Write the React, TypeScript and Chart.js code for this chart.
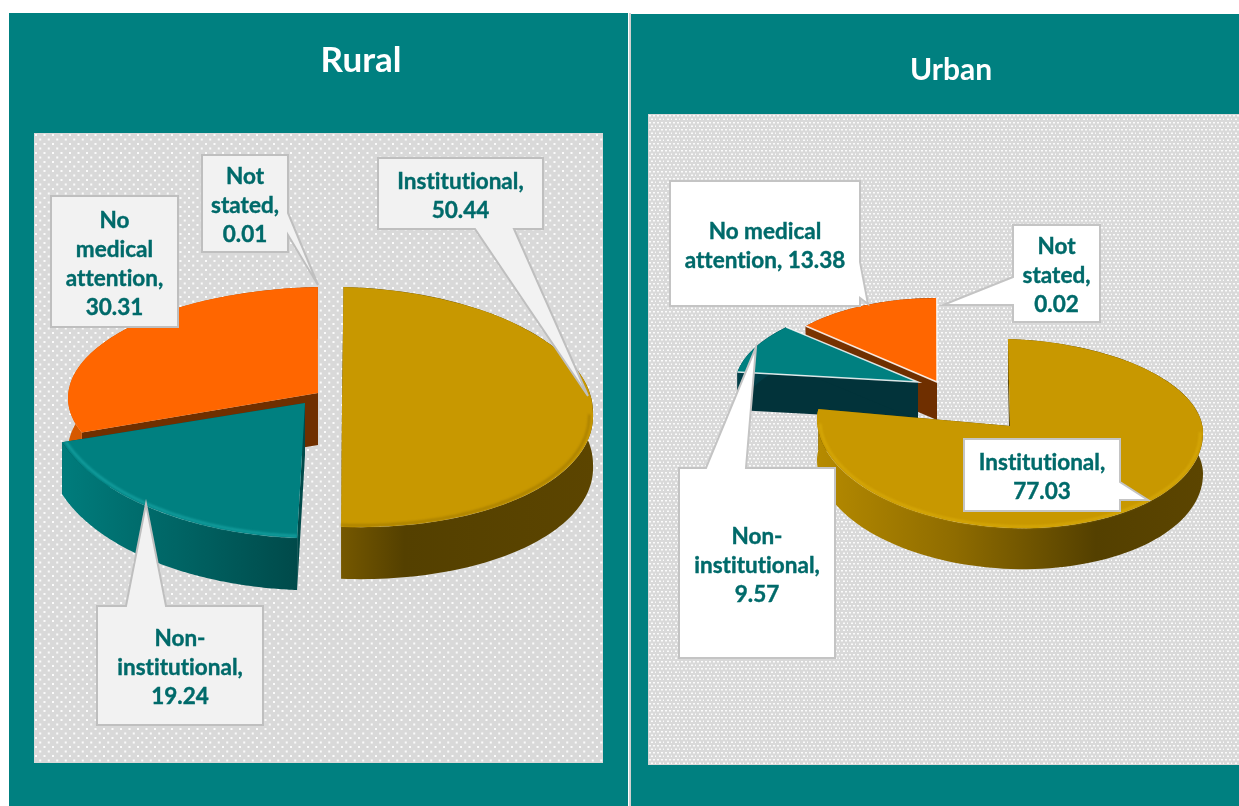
import React, { useEffect, useRef } from "react";
import { Chart, registerables } from "chart.js";

Chart.register(...registerables);

const categories = ["Institutional", "Non-institutional", "No medical attention", "Not stated"];
const ruralValues = [50.44, 19.24, 30.31, 0.01];
const urbanValues = [77.03, 9.57, 13.38, 0.02];
const sliceColors = ["#c89800", "#008080", "#ff6600", "#ff6600"];

const FONT = "Lato, Carlito, Calibri, sans-serif";
const INK = "#006a6a";

type Slice = {
  ax: number; ay: number; a: number; b: number; c: number; d: number; dFront?: number; bFront?: number;
  depth: number; wall: [number, string][]; wallX: [number, number]; radial: string;
  bevel?: string; bevelAlpha?: number; edge?: boolean; skip?: boolean;
};
type Callout = {
  i: number; lines: string[]; x: number; y: number; w: number; h: number;
  side?: "top" | "right" | "bottom" | "left"; p?: number; q?: number; tx?: number; ty?: number;
};
type Panel = {
  name: string; values: number[]; ox: number; oy: number; w: number; h: number;
  plot: [number, number, number, number]; titleX: number; titleY: number; titleSize: number;
  tile: [number, number, [number, number][], number, number];
  fill: string; stroke: string; order: number[]; slices: Slice[]; callouts: Callout[];
};

const ruralPanel: Panel = {
  name: "Rural", values: ruralValues, ox: 9, oy: 13, w: 619, h: 793,
  plot: [34, 133, 569, 630], titleX: 361, titleY: 61, titleSize: 35,
  tile: [17, 9, [[1, 1], [9.5, 1], [5.25, 5.5], [13.75, 5.5]], 2, 2],
  fill: "#f2f2f2", stroke: "#bfbfbf", order: [2, 3, 0, 1],
  slices: [
    { ax: 342, ay: 407, a: 251, b: -1.5, c: 6, d: 120, dFront: 120, bFront: 6, depth: 52, wallX: [341, 595],
      wall: [[0, "#755800"], [0.25, "#544000"], [1, "#5c4500"]], radial: "#544000", bevel: "#9c7600", bevelAlpha: 0.7 },
    { ax: 305, ay: 403, a: 256.8, b: -0.8, c: 5.5, d: 135.2, depth: 52, wallX: [62, 298],
      wall: [[0, "#007c7c"], [0.5, "#006464"], [1, "#004a4a"]], radial: "#004a4a", bevel: "#18a5a5", bevelAlpha: 0.85 },
    { ax: 318, ay: 393, a: 250, b: 0, c: -5, d: 106, depth: 52, wallX: [68, 318],
      wall: [[0, "#d85a00"], [1, "#a04000"]], radial: "#6f2f00" },
    { ax: 318, ay: 393, a: 250, b: 0, c: -5, d: 106, depth: 52, wallX: [68, 318],
      wall: [[0, "#d85a00"], [1, "#a04000"]], radial: "#6f2f00", skip: true },
  ],
  callouts: [
    { i: 3, lines: ["Not", "stated,", "{v}"], x: 202, y: 155, w: 86, h: 97, side: "right", p: 213, q: 235, tx: 318, ty: 285 },
    { i: 0, lines: ["Institutional,", "{v}"], x: 378, y: 158, w: 165, h: 71, side: "bottom", p: 475, q: 514, tx: 588, ty: 396 },
    { i: 2, lines: ["No", "medical", "attention,", "{v}"], x: 51, y: 196, w: 127, h: 131 },
    { i: 1, lines: ["Non-", "institutional,", "{v}"], x: 97, y: 606, w: 166, h: 119, side: "top", p: 126, q: 166, tx: 146, ty: 504 },
  ],
};

const urbanPanel: Panel = {
  name: "Urban", values: urbanValues, ox: 631, oy: 14, w: 608, h: 792,
  plot: [648, 114, 600, 651], titleX: 951, titleY: 70, titleSize: 30,
  tile: [8, 7, [[1, 1], [5, 1], [3, 4.5], [7, 4.5]], 2, 1.5],
  fill: "#ffffff", stroke: "#c4c4c4", order: [2, 3, 1, 0],
  slices: [
    { ax: 1010, ay: 426, a: 193, b: 2, c: 6, d: 87, dFront: 102, depth: 41, wallX: [820, 1203],
      wall: [[0, "#b58a00"], [0.35, "#8f6c00"], [0.72, "#544000"], [1, "#5c4500"]], radial: "#544000", bevel: "#e0b20c", bevelAlpha: 0.6 },
    { ax: 918, ay: 382, a: 183, b: -7, c: -0.6, d: 83, depth: 38, wallX: [737, 918],
      wall: [[0, "#02404a"], [1, "#02333a"]], radial: "#02333a", edge: true },
    { ax: 937, ay: 382, a: 176, b: 0, c: 0, d: 84, depth: 38, wallX: [805, 937],
      wall: [[0, "#7a3300"], [1, "#6f2f00"]], radial: "#6f2f00", edge: true },
    { ax: 937, ay: 382, a: 176, b: 0, c: 0, d: 84, depth: 38, wallX: [805, 937],
      wall: [[0, "#7a3300"], [1, "#6f2f00"]], radial: "#6f2f00", skip: true },
  ],
  callouts: [
    { i: 2, lines: ["No medical", "attention, {v}"], x: 670, y: 181, w: 190, h: 125, side: "right", p: 262, q: 298, tx: 868, ty: 304 },
    { i: 3, lines: ["Not", "stated,", "{v}"], x: 1013, y: 225, w: 87, h: 97, side: "left", p: 277, q: 305, tx: 943, ty: 305 },
    { i: 0, lines: ["Institutional,", "{v}"], x: 964, y: 439, w: 156, h: 72, side: "right", p: 482, q: 500, tx: 1148, ty: 500 },
    { i: 1, lines: ["Non-", "institutional,", "{v}"], x: 679, y: 468, w: 156, h: 190, side: "top", p: 706, q: 746, tx: 756, ty: 347 },
  ],
};

function mapPt(s: Slice, ux: number, uy: number): [number, number] {
  const front = uy > 0;
  const d = front && s.dFront ? s.dFront : s.d;
  const b = front && s.bFront !== undefined ? s.bFront : s.b;
  return [s.ax + s.a * ux + b * uy, s.ay + s.c * ux + d * uy];
}

function outerPts(s: Slice, start: number, end: number, shrink = 1): [number, number][] {
  const pts: [number, number][] = [];
  const n = 120;
  for (let k = 0; k <= n; k++) {
    const t = start + ((end - start) * k) / n;
    pts.push(mapPt(s, Math.cos(t) * shrink, Math.sin(t) * shrink));
  }
  return pts;
}

function drawFace(ctx: CanvasRenderingContext2D, arc: any, s: Slice, b: number, d: number) {
  const R = arc.outerRadius;
  ctx.save();
  ctx.transform(s.a / R, s.c / R, b / R, d / R, s.ax - ((s.a * arc.x + b * arc.y) / R), s.ay - ((s.c * arc.x + d * arc.y) / R));
  arc.draw(ctx);
  ctx.restore();
}

function drawSlice(ctx: CanvasRenderingContext2D, arc: any, s: Slice) {
  const { startAngle: a0, endAngle: a1 } = arc;
  const outer = outerPts(s, a0, a1);
  const grad = ctx.createLinearGradient(s.wallX[0], 0, s.wallX[1], 0);
  s.wall.forEach(([o, c]) => grad.addColorStop(o, c));

  // radial cut walls
  ctx.fillStyle = s.radial;
  [outer[0], outer[outer.length - 1]].forEach((p) => {
    ctx.beginPath();
    ctx.moveTo(s.ax, s.ay);
    ctx.lineTo(p[0], p[1]);
    ctx.lineTo(p[0], p[1] + s.depth);
    ctx.lineTo(s.ax, s.ay + s.depth);
    ctx.closePath();
    ctx.fill();
  });

  // outer wall
  ctx.fillStyle = grad;
  ctx.beginPath();
  outer.forEach((p, i) => (i ? ctx.lineTo(p[0], p[1]) : ctx.moveTo(p[0], p[1])));
  [...outer].reverse().forEach((p) => ctx.lineTo(p[0], p[1] + s.depth));
  ctx.closePath();
  ctx.fill();

  // top face: the element itself, through a per-slice tilt
  if (s.dFront) {
    ctx.save();
    ctx.beginPath();
    ctx.rect(0, 0, 1300, s.ay + 0.5);
    ctx.clip();
    drawFace(ctx, arc, s, s.b, s.d);
    ctx.restore();
    ctx.save();
    ctx.beginPath();
    ctx.rect(0, s.ay, 1300, 900);
    ctx.clip();
    drawFace(ctx, arc, s, s.bFront !== undefined ? s.bFront : s.b, s.dFront);
    ctx.restore();
  } else {
    drawFace(ctx, arc, s, s.b, s.d);
  }

  // rim light along the front of the top face
  if (s.bevel) {
    const inner = outerPts(s, a0, a1, 0.985).filter((_, i, all) => {
      const t = a0 + ((a1 - a0) * i) / (all.length - 1);
      return Math.sin(t) > 0;
    });
    ctx.save();
    ctx.filter = "blur(1.2px)";
    ctx.globalAlpha = s.bevelAlpha ?? 1;
    ctx.strokeStyle = s.bevel;
    ctx.lineWidth = 2.5;
    ctx.beginPath();
    inner.forEach((p, i) => (i ? ctx.lineTo(p[0], p[1]) : ctx.moveTo(p[0], p[1])));
    ctx.stroke();
    ctx.restore();
  }

  if (s.edge) {
    ctx.strokeStyle = "rgba(255,255,255,0.85)";
    ctx.lineWidth = 1.5;
    ctx.beginPath();
    ctx.moveTo(outer[0][0], outer[0][1]);
    ctx.lineTo(s.ax, s.ay);
    ctx.lineTo(outer[outer.length - 1][0], outer[outer.length - 1][1]);
    ctx.stroke();
  }
}

function drawCallout(ctx: CanvasRenderingContext2D, c: Callout, panel: Panel) {
  const { x, y, w, h, side, p = 0, q = 0, tx = 0, ty = 0 } = c;
  const r = x + w, b = y + h;
  ctx.beginPath();
  ctx.moveTo(x, y);
  if (side === "top") { ctx.lineTo(p, y); ctx.lineTo(tx, ty); ctx.lineTo(q, y); }
  ctx.lineTo(r, y);
  if (side === "right") { ctx.lineTo(r, p); ctx.lineTo(tx, ty); ctx.lineTo(r, q); }
  ctx.lineTo(r, b);
  if (side === "bottom") { ctx.lineTo(q, b); ctx.lineTo(tx, ty); ctx.lineTo(p, b); }
  ctx.lineTo(x, b);
  if (side === "left") { ctx.lineTo(x, q); ctx.lineTo(tx, ty); ctx.lineTo(x, p); }
  ctx.closePath();
  ctx.fillStyle = panel.fill;
  ctx.fill();
  ctx.strokeStyle = panel.stroke;
  ctx.lineWidth = 2;
  ctx.lineJoin = "miter";
  ctx.stroke();

  const value = panel.values[c.i].toFixed(2);
  ctx.fillStyle = INK;
  ctx.strokeStyle = INK;
  ctx.lineWidth = 0.4;
  ctx.font = `bold 22.5px ${FONT}`;
  (ctx as any).letterSpacing = "0.01px";
  ctx.textAlign = "center";
  ctx.textBaseline = "middle";
  const step = 29;
  const top = y + h / 2 - ((c.lines.length - 1) * step) / 2 + 2.5;
  c.lines.forEach((ln, i) => {
    const s = ln.replace("{v}", value);
    ctx.fillText(s, x + w / 2, top + i * step);
    ctx.strokeText(s, x + w / 2, top + i * step);
  });
  (ctx as any).letterSpacing = "0px";
}

function makeTile(ctx: CanvasRenderingContext2D, panel: Panel) {
  const [tw, th, dots, dw, dh] = panel.tile;
  const cv = document.createElement("canvas");
  cv.width = tw;
  cv.height = th;
  const t = cv.getContext("2d")!;
  t.fillStyle = "#d9d9d9";
  t.fillRect(0, 0, tw, th);
  t.fillStyle = "#fbfbfb";
  dots.forEach(([dx, dy]) => t.fillRect(dx, dy, dw, dh));
  return ctx.createPattern(cv, "repeat")!;
}

function painter(panel: Panel) {
  return {
    id: "panelPainter",
    beforeDraw(chart: any) {
      const ctx: CanvasRenderingContext2D = chart.ctx;
      ctx.save();
      ctx.fillStyle = "#008080";
      ctx.fillRect(0, 0, panel.w, panel.h);
      ctx.translate(-panel.ox, -panel.oy);
      const [px, py, pw, ph] = panel.plot;
      ctx.save();
      ctx.translate(px, py);
      ctx.fillStyle = makeTile(ctx, panel);
      ctx.fillRect(0, 0, pw, ph);
      ctx.restore();
      ctx.fillStyle = "#ffffff";
      ctx.font = `bold ${panel.titleSize}px ${FONT}`;
      ctx.textAlign = "center";
      ctx.textBaseline = "middle";
      ctx.fillText(panel.name, panel.titleX, panel.titleY);
      ctx.restore();
    },
    beforeDatasetsDraw(chart: any) {
      const ctx: CanvasRenderingContext2D = chart.ctx;
      const arcs = chart.getDatasetMeta(0).data;
      ctx.save();
      ctx.translate(-panel.ox, -panel.oy);
      panel.order.forEach((i) => {
        if (panel.slices[i].skip) return;
        drawSlice(ctx, arcs[i], panel.slices[i]);
      });
      panel.callouts.forEach((c) => drawCallout(ctx, c, panel));
      ctx.restore();
      return false;
    },
  };
}

function PieCanvas({ panel }: { panel: Panel }) {
  const ref = useRef<HTMLCanvasElement>(null);
  useEffect(() => {
    const chart = new Chart(ref.current!, {
      type: "pie",
      data: {
        labels: categories,
        datasets: [{ data: panel.values, backgroundColor: sliceColors, borderWidth: 0 }],
      },
      options: {
        responsive: false,
        animation: false,
        radius: 100,
        rotation: 0,
        events: [],
        plugins: { legend: { display: false }, tooltip: { enabled: false }, title: { display: false } },
      },
      plugins: [painter(panel)],
    } as any);
    return () => chart.destroy();
  }, [panel]);
  return (
    <canvas
      ref={ref}
      width={panel.w}
      height={panel.h}
      style={{ position: "absolute", left: panel.ox, top: panel.oy, width: panel.w, height: panel.h, display: "block" }}
    />
  );
}

export default function App() {
  return (
    <div style={{ position: "absolute", left: 0, top: 0, width: 1239, height: 806, background: "#ffffff", overflow: "hidden" }}>
      <div style={{ position: "absolute", left: 629, top: 13, width: 2, height: 793, background: "#d0d0d0" }} />
      <PieCanvas panel={ruralPanel} />
      <PieCanvas panel={urbanPanel} />
    </div>
  );
}
